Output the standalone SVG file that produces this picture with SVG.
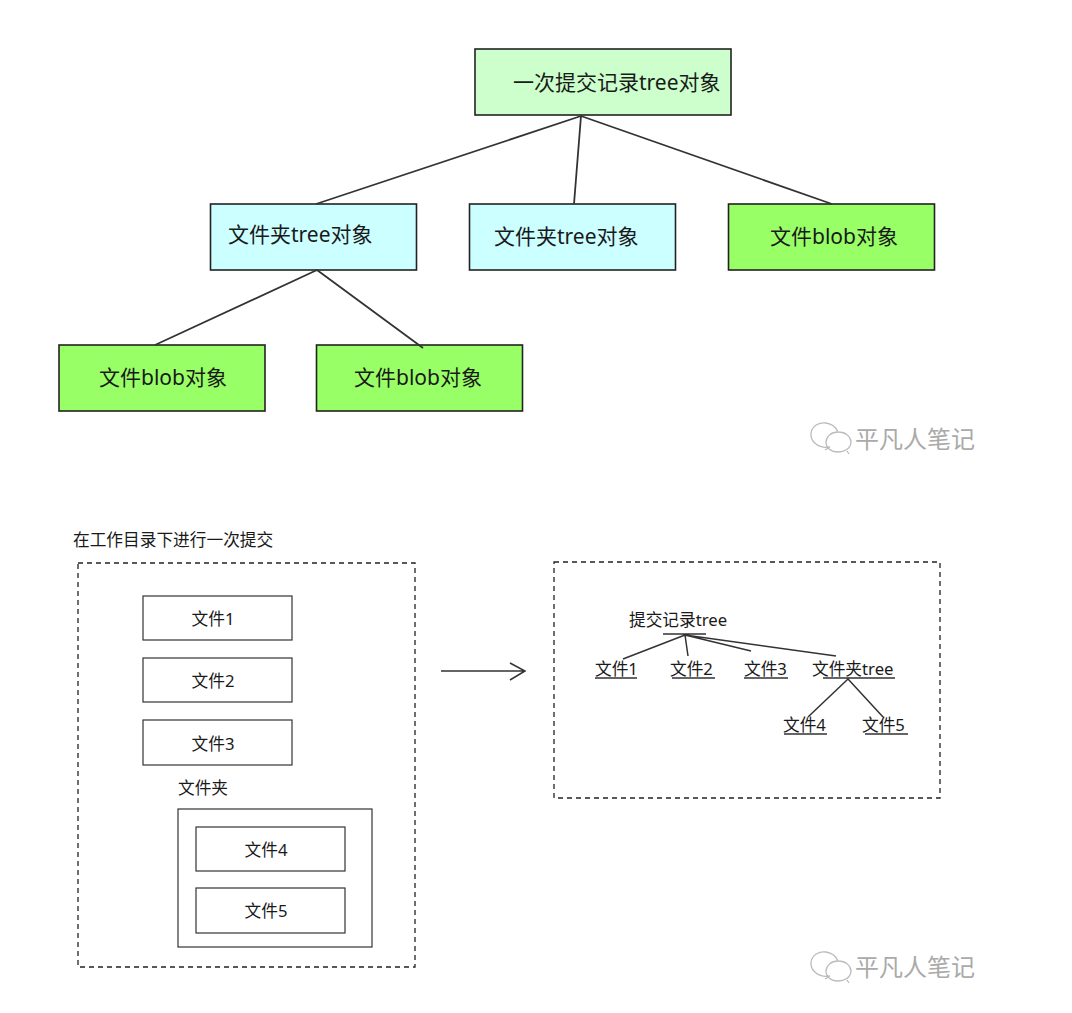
<svg xmlns="http://www.w3.org/2000/svg" width="1072" height="1013" viewBox="0 0 1072 1013">
<style>
text{font-family:"Noto Sans","Noto Sans CJK SC",sans-serif;fill:#1a1a1a}
.big{font-size:21px}
.mid{font-size:16.700px}
.box{stroke:#222;stroke-width:1.6}
.wb{fill:#fff;stroke:#333;stroke-width:1.2}
.dash{fill:none;stroke:#222;stroke-width:1.3;stroke-dasharray:5 4}
.c{stroke:#333;stroke-width:1.8;fill:none}
.t{stroke:#333;stroke-width:1.5;fill:none}
.mark{font-size:24px;fill:#aaa;font-family:"Noto Sans CJK SC",sans-serif}
.ic{fill:none;stroke:#bbb;stroke-width:1.3}
</style>
<rect width="1072" height="1013" fill="#fff"/>
<g id="node-root"><rect class="box" x="475" y="49" width="256" height="66" fill="#ccffcc"/><text class="big" x="513" y="90">一次提交记录tree对象</text></g>
<g id="node-folder1"><rect class="box" x="210.500" y="204" width="206" height="66" fill="#ccffff"/><text class="big" x="228" y="242">文件夹tree对象</text></g>
<g id="node-folder2"><rect class="box" x="469.500" y="204" width="206" height="66" fill="#ccffff"/><text class="big" x="494" y="244">文件夹tree对象</text></g>
<g id="node-blob1"><rect class="box" x="728.500" y="204" width="206" height="66" fill="#99ff66"/><text class="big" x="770" y="244">文件blob对象</text></g>
<g id="node-blob2"><rect class="box" x="59" y="345" width="206" height="66" fill="#99ff66"/><text class="big" x="99" y="385">文件blob对象</text></g>
<g id="node-blob3"><rect class="box" x="316.500" y="345" width="206" height="66" fill="#99ff66"/><text class="big" x="354" y="385">文件blob对象</text></g>
<g id="watermark1"><path class="ic" d="M830 447c-12 2-20-6-19-14c1-7 8-11 15-10c6 1 10 4 12 9M830 447l-5 3M838 432c8 0 13 5 13 10c0 6-6 10-13 10c-7 0-12-4-12-10c0-5 5-10 12-10zM847 451l2 3"/><text class="mark" x="855" y="448">平凡人笔记</text></g>
<g id="watermark2"><path class="ic" d="M830 976c-12 2-20-6-19-14c1-7 8-11 15-10c6 1 10 4 12 9M830 976l-5 3M838 961c8 0 13 5 13 10c0 6-6 10-13 10c-7 0-12-4-12-10c0-5 5-10 12-10zM847 980l2 3"/><text class="mark" x="855" y="976">平凡人笔记</text></g>
<g id="workdir"><text class="mid" x="73" y="546">在工作目录下进行一次提交</text><rect class="dash" x="78" y="563" width="337" height="404"/></g>
<g id="file1"><rect class="wb" x="143" y="596" width="149" height="44"/><text class="mid" x="213" y="625" text-anchor="middle">文件1</text></g>
<g id="file2"><rect class="wb" x="143" y="658" width="149" height="44"/><text class="mid" x="213" y="687" text-anchor="middle">文件2</text></g>
<g id="file3"><rect class="wb" x="143" y="720" width="149" height="45"/><text class="mid" x="213" y="750" text-anchor="middle">文件3</text></g>
<g id="folder"><text class="mid" x="178" y="794">文件夹</text><rect class="wb" x="178" y="809" width="194" height="138"/></g>
<g id="file4"><rect class="wb" x="196" y="827" width="149" height="44"/><text class="mid" x="266" y="856" text-anchor="middle">文件4</text></g>
<g id="file5"><rect class="wb" x="196" y="888" width="149" height="45"/><text class="mid" x="266" y="917" text-anchor="middle">文件5</text></g>
<g id="result"><rect class="dash" x="554" y="562" width="386" height="236"/></g>
<g id="t-root"><text class="mid" x="629" y="626">提交记录tree</text></g>
<g id="t-1"><text class="mid" x="595" y="675">文件1</text></g>
<g id="t-2"><text class="mid" x="670" y="675">文件2</text></g>
<g id="t-3"><text class="mid" x="744" y="675">文件3</text></g>
<g id="t-folder"><text class="mid" x="812" y="675">文件夹tree</text></g>
<g id="t-4"><text class="mid" x="783" y="731">文件4</text></g>
<g id="t-5"><text class="mid" x="862" y="731">文件5</text></g>
<g id="connectors">
<path class="c" d="M581 116L316 204M581 116L574 204M581 116L832 204M317 270L155 345M317 270L423 348"/>
<path class="t" d="M441 671H525M510 663L525 671L510 680"/>
<path class="t" d="M663 634H706M685 635L623 659M685 635L688 656M685 635L751 651M685 635L836 656M595 678H637M672 678H715M744 678H788M823 678H895M848 679L808 717M848 679L883 717M784 734H827M865 734H908"/>
</g>
</svg>
